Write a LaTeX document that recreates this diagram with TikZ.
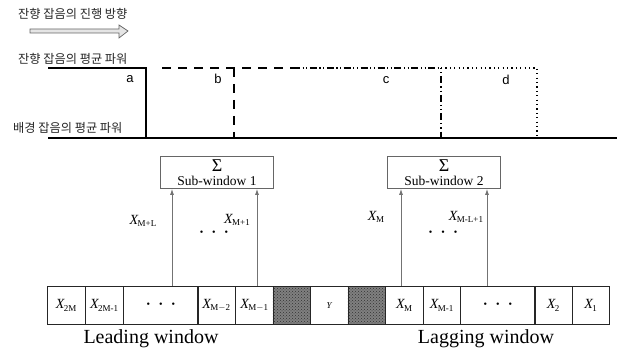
\documentclass[tikz,border=0pt]{standalone}
\usepackage{fontspec}
\setmainfont{Liberation Serif}
\newfontfamily\krfont{Noto Sans CJK KR}
\newfontfamily\lsans{Liberation Sans}
\usetikzlibrary{patterns,arrows.meta}
\newcommand{\xsub}[1]{{\itshape X}\kern-0.5pt\raisebox{-0.35ex}{\fontsize{9}{9}\selectfont #1}}
\newcommand{\sumsym}{{\fontsize{18}{18}\selectfont Σ}}
\begin{document}
\begin{tikzpicture}[x=1pt,y=-1pt,
  krlabel/.style={anchor=west,inner sep=0pt,font=\krfont\fontsize{12.2}{13}\selectfont,text=black!85},
  letter/.style={inner sep=0pt,font=\lsans\fontsize{13}{13}\selectfont},
  level/.style={line width=1.4pt},
  cell/.style={draw=black!85,line width=0.8pt,minimum width=37.5pt,minimum height=38pt,inner sep=0pt,anchor=north west,font=\fontsize{14}{14}\selectfont},
  widecell/.style={cell,minimum width=75pt},
  graycell/.style={cell,preaction={fill=black!50},pattern=crosshatch dots,pattern color=black!80},
  sumbox/.style={draw=black!60,line width=0.9pt,minimum width=113pt,minimum height=32pt,inner sep=0pt,anchor=north west},
  sumtxt/.style={inner sep=0pt,font=\fontsize{13.5}{14}\selectfont},
  uparrow/.style={draw=black!55,line width=0.8pt,-{Latex[length=6pt,width=4pt]}},
  xlabel/.style={inner sep=0pt,font=\fontsize{14}{14}\selectfont},
  dots/.style={inner sep=0pt,font=\fontsize{10}{10}\selectfont},
  winlabel/.style={inner sep=0pt,font=\fontsize{20}{20}\selectfont}]
\useasboundingbox (0,0) rectangle (622,350);

% top labels
\node[krlabel] (dir) at (18,14) {잔향 잡음의 진행 방향};
\draw[draw=black!60,fill=black!10,line width=0.7pt]
  (30,29) -- (119,29) -- (119,25) -- (128,31) -- (119,38) -- (119,33) -- (30,33) -- cycle;
\node[krlabel] (hi) at (18,59) {잔향 잡음의 평균 파워};
\node[krlabel] (lo) at (13,128) {배경 잡음의 평균 파워};

% levels
\draw[level] (48,68) -- (146,68) -- (146,138);
\draw[level] (48,138) -- (617,138);
\draw[level,dash pattern=on 9pt off 7pt] (162,68) -- (293,68);
\draw[level,dash pattern=on 9pt off 7pt] (234,68) -- (234,138);
\draw[level,dash pattern=on 7pt off 2.5pt on 1.2pt off 2.5pt on 1.2pt off 2.5pt] (293,68) -- (441,68);
\draw[line width=1.1pt,dash pattern=on 1.2pt off 3pt on 1.2pt off 3pt on 7pt off 3pt] (441,68) -- (441,138);
\draw[line width=1.1pt,dash pattern=on 1.2pt off 3.2pt] (441,68) -- (537,68) -- (537,138);
\node[letter] (la) at (130,79) {a};
\node[letter] (lb) at (218,79) {b};
\node[letter] (lc) at (386,80) {c};
\node[letter] (ld) at (506,80) {d};

% cells
\node[cell] (c1) at (47,286) {\xsub{2M}};
\node[cell] (c2) at (85,286) {\xsub{2M-1}};
\node[widecell,dots] (c3) at (123,286) {\textbullet\hspace{9pt}\textbullet\hspace{9pt}\textbullet};
\node[cell] (c4) at (197,286) {\xsub{M$-$2}};
\node[cell] (c5) at (235,286) {\xsub{M$-$1}};
\node[graycell] (g1) at (272.5,286) {};
\node[cell,font=\itshape\fontsize{9}{9}\selectfont] (cy) at (310,286) {Y};
\node[graycell] (g2) at (347.5,286) {};
\node[cell] (d1) at (385,286) {\xsub{M}};
\node[cell] (d2) at (422.5,286) {\xsub{M-1}};
\node[widecell,dots] (d3) at (460,286) {\textbullet\hspace{9pt}\textbullet\hspace{9pt}\textbullet};
\node[cell] (d4) at (534,286) {\xsub{2}};
\node[cell] (d5) at (571.5,286) {\xsub{1}};

\node[winlabel] (lead) at (151,339) {Leading window};
\node[winlabel] (lag) at (486,339) {Lagging window};

% sub-windows
\node[sumbox] (s1) at (160,156) {};
\node[sumtxt] (s1a) at (217,166) {\sumsym};
\node[sumtxt] (s1b) at (217,181) {Sub-window 1};
\node[sumbox] (s2) at (387,156) {};
\node[sumtxt] (s2a) at (444,166) {\sumsym};
\node[sumtxt] (s2b) at (444,181) {Sub-window 2};

\coordinate (a1) at (172,286);
\coordinate (a2) at (257,286);
\coordinate (a3) at (401,286);
\coordinate (a4) at (487,286);
\draw[uparrow] (a1) -- (a1 |- s1.south);
\draw[uparrow] (a2) -- (a2 |- s1.south);
\draw[uparrow] (a3) -- (a3 |- s2.south);
\draw[uparrow] (a4) -- (a4 |- s2.south);

\node[xlabel] (x1) at (143,221) {\xsub{M+L}};
\node[xlabel] (x2) at (237,220) {\xsub{M+1}};
\node[dots] (p1) at (214,233) {\textbullet\hspace{9pt}\textbullet\hspace{9pt}\textbullet};
\node[xlabel] (x3) at (376,217) {\xsub{M}};
\node[xlabel] (x4) at (466,217) {\xsub{M-L+1}};
\node[dots] (p2) at (443,233) {\textbullet\hspace{9pt}\textbullet\hspace{9pt}\textbullet};
\end{tikzpicture}
\end{document}
